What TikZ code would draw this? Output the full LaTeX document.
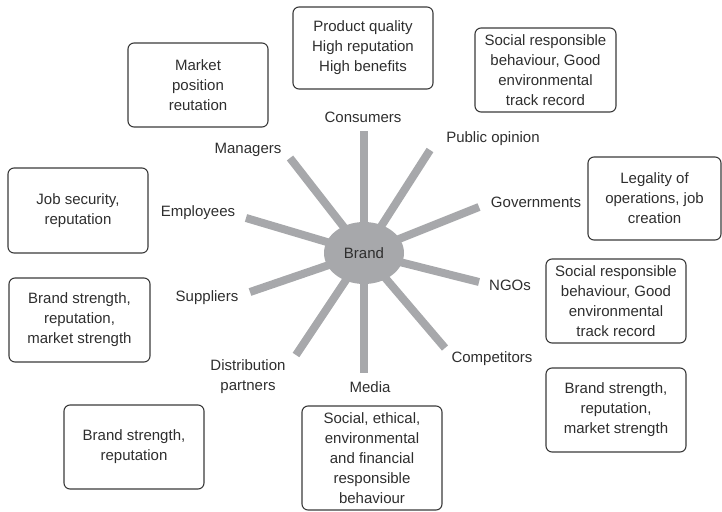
\documentclass[tikz,border=0pt]{standalone}
\usepackage{fontspec}
\setmainfont{Liberation Sans}
\usetikzlibrary{shapes.geometric}
\definecolor{spokegray}{HTML}{A7A8AB}
\definecolor{txt}{HTML}{2E2E2E}
\definecolor{boxline}{HTML}{3A3A3A}
\tikzset{
  infobox/.style={draw=boxline, line width=1.1pt, rounded corners=6pt, align=center,
    text=txt, font=\fontsize{15}{20}\selectfont, inner sep=0pt},
  lbl/.style={text=txt, font=\fontsize{15}{20}\selectfont, align=center, inner sep=0pt},
  spoke/.style={draw=spokegray, line width=8pt},
  brandnode/.style={ellipse, fill=spokegray, minimum width=80pt, minimum height=62pt,
    text=txt, font=\fontsize{15}{20}\selectfont, inner sep=0pt}
}
\begin{document}
\begin{tikzpicture}[x=1pt,y=-1pt]
\useasboundingbox (0,0) rectangle (722,511);
% spokes
\coordinate (c) at (364,253);
\coordinate (eCon) at (364,131);
\coordinate (eMan) at (290,158);
\coordinate (ePub) at (430,150);
\coordinate (eGov) at (479,207);
\coordinate (eEmp) at (246,218);
\coordinate (eSup) at (250,292);
\coordinate (eNGO) at (479,282);
\coordinate (eDis) at (296,355);
\coordinate (eCom) at (445,348);
\coordinate (eMed) at (364,373);
\foreach \e in {eCon,eMan,ePub,eGov,eEmp,eSup,eNGO,eDis,eCom,eMed}
  \draw[spoke] (c) -- (\e);
\node[brandnode] (brand) at (c) {Brand};
% labels
\node[lbl] (lCon) at (363,117) {Consumers};
\node[lbl] (lMan) at (248,150) {Managers};
\node[lbl] (lPub) at (493,139) {Public opinion};
\node[lbl] (lGov) at (536,202) {Governments};
\node[lbl] (lEmp) at (198,213) {Employees};
\node[lbl] (lSup) at (207,298) {Suppliers};
\node[lbl] (lNGO) at (510,285) {NGOs};
\node[lbl] (lDis) at (248,377) {Distribution\\partners};
\node[lbl] (lCom) at (492,359) {Competitors};
\node[lbl] (lMed) at (370,387) {Media};
% boxes
\node[infobox, minimum width=140pt, minimum height=84pt] (bMan) at (198,85) {Market\\position\\reutation};
\node[infobox, minimum width=140pt, minimum height=82pt] (bCon) at (363,48) {Product quality\\High reputation\\High benefits};
\node[infobox, minimum width=141pt, minimum height=84pt] (bPub) at (545.5,70) {Social responsible\\behaviour, Good\\environmental\\track record};
\node[infobox, minimum width=133pt, minimum height=83pt] (bGov) at (654.5,198.5) {Legality of\\operations, job\\creation};
\node[infobox, minimum width=140pt, minimum height=85pt] (bEmp) at (78,210.5) {Job security,\\reputation};
\node[infobox, minimum width=141pt, minimum height=84pt] (bSup) at (79.5,320) {Brand strength,\\reputation,\\market strength};
\node[infobox, minimum width=140pt, minimum height=84pt] (bDis) at (134,447) {Brand strength,\\reputation};
\node[infobox, minimum width=140pt, minimum height=104pt] (bMed) at (372,458) {Social, ethical,\\environmental\\and financial\\responsible\\behaviour};
\node[infobox, minimum width=140pt, minimum height=84pt] (bNGO) at (616,301) {Social responsible\\behaviour, Good\\environmental\\track record};
\node[infobox, minimum width=140pt, minimum height=84pt] (bCom) at (616,410) {Brand strength,\\reputation,\\market strength};
\end{tikzpicture}
\end{document}
